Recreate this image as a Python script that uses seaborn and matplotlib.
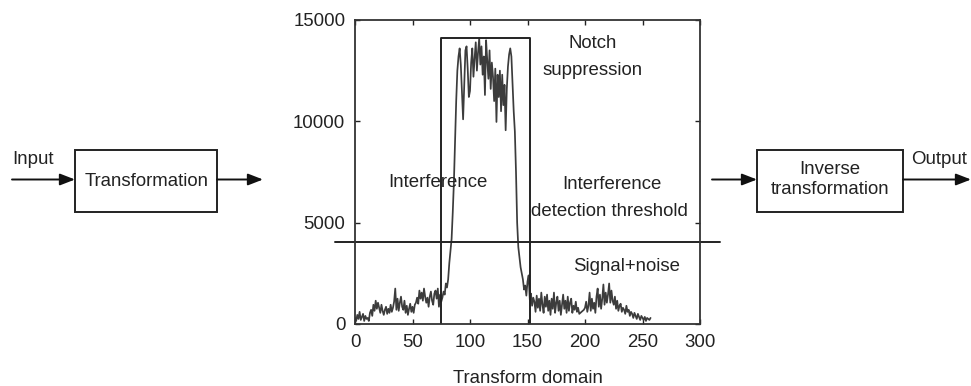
import matplotlib
matplotlib.use("Agg")
import matplotlib.pyplot as plt
import seaborn as sns
import pandas as pd
import numpy as np
from matplotlib.patches import Rectangle

# ---------------- data ----------------
signal_values = [
    300, 150, 450, 250, 600, 200, 350, 500, 150, 400,
    250, 300, 150, 550, 700, 400, 950, 650, 1150, 750,
    1050, 800, 550, 950, 650, 450, 700, 850, 500, 750,
    550, 950, 600, 800, 1100, 1750, 700, 1250, 650, 1050,
    1350, 850, 700, 1150, 550, 900, 450, 750, 1000, 600,
    850, 550, 950, 1050, 1300, 1000, 1650, 1250, 1550, 1150,
    1750, 1350, 1050, 1300, 850, 1350, 1600, 1150, 950, 1500,
    1650, 1250, 1750, 850, 1450,
    1100, 1300, 1600, 1450, 2000,
    1800, 2200, 3000, 3600, 4200,
    5500, 7000, 9000, 11000, 12500,
    13200, 13600, 12800, 11500, 10100,
    11800, 13500, 13700, 12600, 11200,
    11500, 12900, 13600, 12200, 13100,
    13900, 12500, 13400, 14100, 12800,
    13700, 12300, 13200, 11300, 14000,
    13000, 12100, 13500, 11600, 12900,
    12200, 11000, 12600, 9970, 12300,
    11200, 12500, 10500, 12300, 10800,
    11800, 9560, 11600, 12700, 13300,
    13600, 13200, 11800, 10500, 9500,
    7500, 5000, 3800, 3300, 2800,
    2500, 2200, 1700, 1900, 1400,
    2100, 2400, 1200, 1500, 900,
    1300, 1100, 600, 1400, 800,
    1250, 650, 1550, 950, 550, 1350, 850, 1450, 650, 1150,
    450, 1250, 750, 1550, 550, 1050, 1350, 650, 1150, 450,
    950, 1450, 750, 1150, 550, 1350, 650, 1050, 1250, 550,
    900, 700, 1100, 600, 800, 500, 550, 600, 650, 700,
    800, 1100, 600, 900, 1550, 650, 1250, 750, 1050, 550,
    1350, 1750, 850, 1450, 750, 1250, 1950, 950, 1550, 1050,
    1450, 2000, 1050, 1650, 1150, 950, 1350, 750, 1150, 650,
    900, 1000, 600, 800, 700, 500, 900, 600, 700, 400,
    600, 500, 300, 550, 400, 250, 500, 350, 200, 400,
    300, 200, 350, 150, 300, 250, 200, 300,
]
signal_index = list(range(len(signal_values)))

threshold_value = 4050
threshold_span = [-17, 317]
notch_left, notch_right, notch_top = 75, 152, 14100

x_ticks = [0, 50, 100, 150, 200, 250, 300]
y_ticks = [0, 5000, 10000, 15000]
x_label = "Transform domain"

annotations = [
    ("Notch", 207, 13850),
    ("suppression", 207, 12530),
    ("Interference", 72, 6970),
    ("Interference", 223, 6860),
    ("detection threshold", 221.5, 5540),
    ("Signal+noise", 236.5, 2830),
]

# ---------------- style ----------------
sns.set_style("ticks")
plt.rcParams['font.family'] = ['Liberation Sans', 'DejaVu Sans']
FS = 13.4

W, H = 971, 386
fig = plt.figure(figsize=(W / 100, H / 100), dpi=100)

# overlay for block diagram, pixel coordinates
ov = fig.add_axes([0, 0, 1, 1])
ov.set_xlim(0, W)
ov.set_ylim(H, 0)
ov.axis("off")

# main plot axes
L, R, T, B = 355, 700, 20, 324
ax = fig.add_axes([L / W, (H - B) / H, (R - L) / W, (B - T) / H])

df = pd.DataFrame({"x": signal_index, "y": signal_values})
sns.lineplot(data=df, x="x", y="y", ax=ax, color="#3c3c3c", linewidth=1.25)

# notch rectangle
ax.plot([notch_left, notch_left, notch_right, notch_right],
        [0, notch_top, notch_top, 0], color="#222222", linewidth=1.4)
# threshold
ax.plot(threshold_span, [threshold_value, threshold_value],
        color="#222222", linewidth=1.4, clip_on=False)

ax.set_xlim(0, 300)
ax.set_ylim(0, 15000)
ax.set_xticks(x_ticks)
ax.set_yticks(y_ticks)
ax.tick_params(direction="in", top=True, right=True, length=3.5, width=1,
               labelsize=FS, colors="#222222", pad=7)
for s in ax.spines.values():
    s.set_visible(True)
    s.set_color("#333333")
    s.set_linewidth(1.3)
ax.set_xlabel(x_label, fontsize=FS, labelpad=14, color="#222222")
ax.set_ylabel("")
ax.patch.set_alpha(0)

for txt, x, y in annotations:
    ax.text(x, y, txt, ha="center", va="center", fontsize=FS, color="#222222")

# ---------------- block diagram ----------------
def box(x0, x1, y0, y1):
    ov.add_patch(Rectangle((x0, y0), x1 - x0, y1 - y0, fill=False,
                           edgecolor="#222222", linewidth=1.4))

def arrow(x0, x1, y):
    ov.annotate("", xy=(x1, y), xytext=(x0, y),
                arrowprops=dict(arrowstyle="-|>,head_length=0.9,head_width=0.35",
                                color="#111111", linewidth=1.4,
                                shrinkA=0, shrinkB=0))

arrow(12, 75, 179.5)
box(75, 217, 149.5, 211.5)
ov.text(147, 181, "Transformation", ha="center", va="center", fontsize=FS, color="#222222")
ov.text(12, 160, "Input", ha="left", va="center", fontsize=FS, color="#222222")
arrow(217, 263, 179.5)

arrow(712, 757, 179.5)
box(757, 903, 149.5, 211.5)
ov.text(830, 170, "Inverse", ha="center", va="center", fontsize=FS, color="#222222")
ov.text(830, 190, "transformation", ha="center", va="center", fontsize=FS, color="#222222")
arrow(903, 971, 179.5)
ov.text(939, 160, "Output", ha="center", va="center", fontsize=FS, color="#222222")

fig.savefig("out.png", dpi=100)
